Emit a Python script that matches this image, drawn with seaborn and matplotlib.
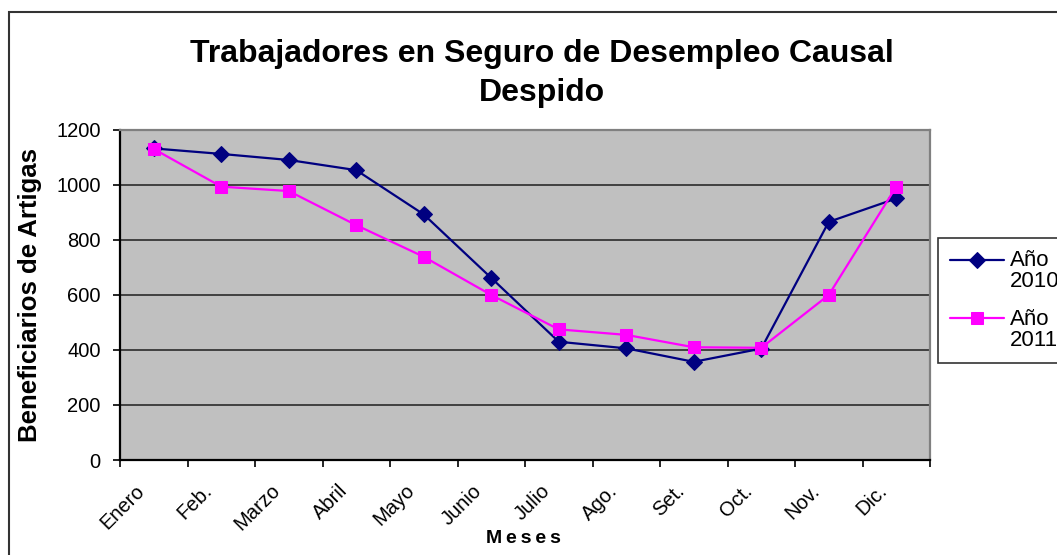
import matplotlib
matplotlib.use("Agg")
import matplotlib.pyplot as plt
import matplotlib.patches as mpatches
import matplotlib.transforms as mtransforms
from matplotlib.legend_handler import HandlerLine2D
import seaborn as sns
import pandas as pd
import numpy as np

meses = ["Enero", "Feb.", "Marzo", "Abril", "Mayo", "Junio", "Julio",
         "Ago.", "Set.", "Oct.", "Nov.", "Dic."]
anio_2010 = [1133, 1113, 1091, 1054, 893, 662, 430, 406, 357, 405, 866, 951]
anio_2011 = [1131, 994, 978, 854, 739, 600, 475, 455, 410, 408, 600, 994]
series_labels = ["Año\n2010", "Año\n2011"]
y_ticks = [0, 200, 400, 600, 800, 1000, 1200]

sns.set_theme(style="white")
plt.rcParams["font.family"] = ["Liberation Sans", "DejaVu Sans"]
for k in ["text.color", "axes.labelcolor", "xtick.color", "ytick.color"]:
    plt.rcParams[k] = "black"

df = pd.DataFrame({
    "mes": list(range(len(meses))) * 2,
    "valor": anio_2010 + anio_2011,
    "serie": [series_labels[0]] * len(meses) + [series_labels[1]] * len(meses),
})

fig = plt.figure(figsize=(10.57, 5.55), dpi=100)
ax = fig.add_axes([120 / 1057, 1 - 460 / 555, 810 / 1057, 330 / 555])
ax.set_facecolor("#C0C0C0")

palette = {series_labels[0]: "#000080", series_labels[1]: "#FF00FF"}
markers = {series_labels[0]: "D", series_labels[1]: "s"}
sizes = {series_labels[0]: 8, series_labels[1]: 8.5}
for lab in series_labels:
    sub = df[df["serie"] == lab]
    sns.lineplot(data=sub, x="mes", y="valor", ax=ax, color=palette[lab],
                 marker=markers[lab], markersize=sizes[lab], linewidth=1.6,
                 markeredgecolor=palette[lab], label=lab, zorder=3)

ax.set_xlim(-0.5, len(meses) - 0.5)
ax.set_ylim(0, 1200)
ax.set_yticks(y_ticks)
ax.set_yticklabels([str(v) for v in y_ticks], fontsize=14.5)
ax.yaxis.grid(True, color="#404040", linewidth=1.4)
ax.xaxis.grid(False)
ax.set_axisbelow(True)

ax.set_xticks(np.arange(len(meses)))
ax.set_xticks(np.arange(-0.5, len(meses)), minor=True)
ax.tick_params(axis="x", which="major", length=0, pad=20)
ax.tick_params(axis="x", which="minor", length=5, width=1.2, color="black",
               direction="out", bottom=True)
ax.tick_params(axis="y", length=5, width=1.2, color="black",
               direction="out", left=True, pad=9)
ax.set_xticklabels(meses, fontsize=14.5, rotation=45, ha="right",
                   va="center", rotation_mode="anchor")
offset = mtransforms.ScaledTranslation(-12 / 100, 0, fig.dpi_scale_trans)
for lbl in ax.get_xticklabels():
    lbl.set_transform(lbl.get_transform() + offset)

for s in ["left", "bottom"]:
    ax.spines[s].set_color("black")
    ax.spines[s].set_linewidth(1.6)
for s in ["top", "right"]:
    ax.spines[s].set_color("#808080")
    ax.spines[s].set_linewidth(1.6)

ax.set_xlabel("M\u2009e\u2009s\u2009e\u2009s", fontsize=14, fontweight="bold")
ax.xaxis.set_label_coords(0.4975, -0.212)
ax.xaxis.label.set_va("top")
ax.set_ylabel("Beneficiarios de Artigas", fontsize=18.5, fontweight="bold")
ax.yaxis.set_label_coords(-0.096, 0.5)

fig.text(542 / 1057, 1 - 73.5 / 555,
         "Trabajadores en Seguro de Desempleo Causal\nDespido",
         ha="center", va="center", fontsize=23, fontweight="bold",
         linespacing=1.4)


class UpperHandler(HandlerLine2D):
    def create_artists(self, legend, orig_handle, xdescent, ydescent,
                       width, height, fontsize, trans):
        return super().create_artists(legend, orig_handle, xdescent,
                                      ydescent - 17, width, height,
                                      fontsize, trans)


ax.get_legend().remove()
handles, labels = ax.get_legend_handles_labels()
leg = fig.legend(handles, labels, loc="upper left",
                 bbox_to_anchor=(938 / 1057, 1 - 238 / 555),
                 borderaxespad=0,
                 fontsize=16, frameon=True, fancybox=False,
                 edgecolor="black", handlelength=2.4, borderpad=0.55,
                 labelspacing=0.75, handletextpad=0.27,
                 handler_map={h: UpperHandler() for h in handles})
for t in leg.get_texts():
    t.set_linespacing(1.0)
leg.get_frame().set_linewidth(1.2)

border = mpatches.Rectangle((8.5 / 1057, -0.2), 2, 1.2 - 12 / 555,
                            transform=fig.transFigure, fill=False,
                            edgecolor="#333333", linewidth=1.5)
fig.patches.append(border)

fig.savefig("out.png", dpi=100)
